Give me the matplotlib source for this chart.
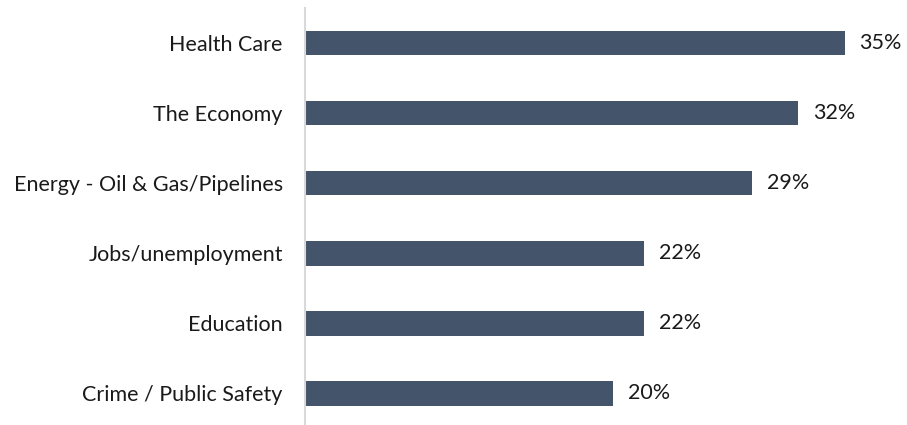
import matplotlib
matplotlib.use("Agg")
import matplotlib.pyplot as plt

categories = ["Health Care", "The Economy", "Energy - Oil & Gas/Pipelines",
              "Jobs/unemployment", "Education", "Crime / Public Safety"]
values = [35, 32, 29, 22, 22, 20]

plt.rcParams['font.family'] = ['Lato', 'DejaVu Sans']

fig = plt.figure(figsize=(9.07, 4.25), dpi=100)
ax = fig.add_axes([305 / 907, 0, 586 / 907, 417 / 425])

pos = list(range(len(categories)))
ax.barh(pos, values, height=0.35, color='#44546A')

for p, v in zip(pos, values):
    ax.text(v + 0.95, p, f"{v}%", va='center', ha='left', fontsize=15.5, color='#1a1a1a')

ax.set_yticks(pos)
ax.set_yticklabels(categories, fontsize=15.5, color='#1a1a1a')
ax.tick_params(axis='y', length=0, pad=16)
ax.set_xticks([])
ax.set_xlim(0, 38)
ax.set_ylim(5.45, -0.5)

for s in ['top', 'right', 'bottom']:
    ax.spines[s].set_visible(False)
ax.spines['left'].set_color('#D9D9D9')
ax.spines['left'].set_linewidth(1.5)

fig.savefig("out.png", dpi=100)
